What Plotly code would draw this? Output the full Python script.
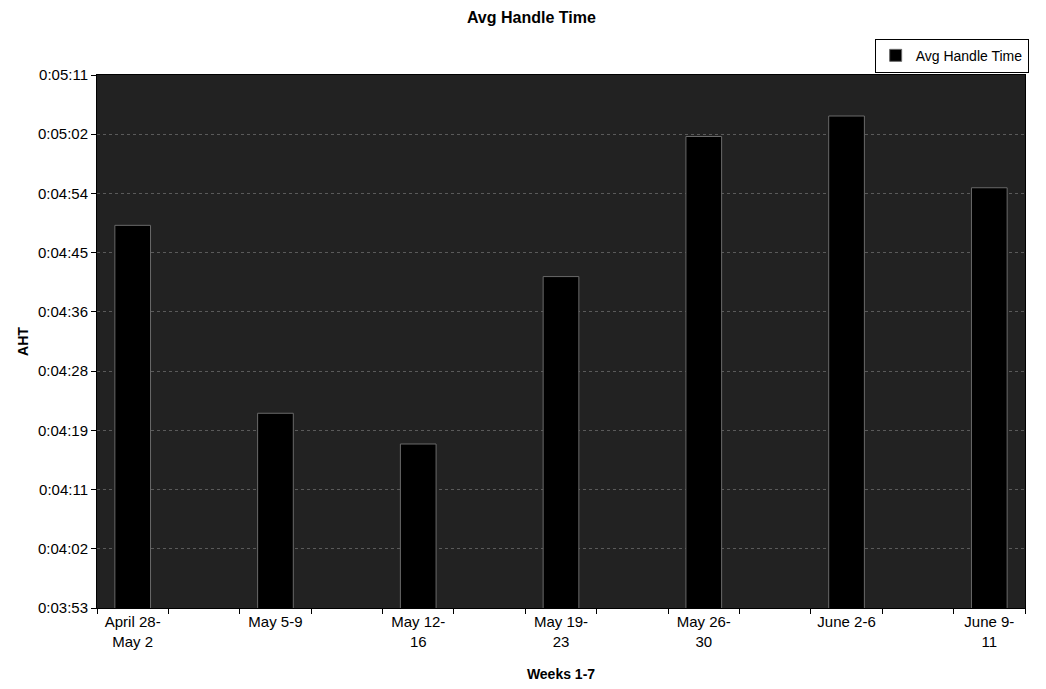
import plotly.graph_objects as go

weeks = ["April 28-<br>May 2", "May 5-9", "May 12-<br>16", "May 19-<br>23",
         "May 26-<br>30", "June 2-6", "June 9-<br>11"]
# average handle time in seconds
aht_seconds = [289, 261.5, 257, 281.5, 302, 305, 294.5]
y_tick_seconds = [233, 241.67, 250.33, 259, 267.67, 276.33, 285, 293.67, 302.33, 311]
y_tick_labels = ["0:03:53", "0:04:02", "0:04:11", "0:04:19", "0:04:28",
                 "0:04:36", "0:04:45", "0:04:54", "0:05:02", "0:05:11"]

x_pos = list(range(len(weeks)))
hover = ["%d:%02d" % (int(s) // 60, int(s) % 60) for s in aht_seconds]

fig = go.Figure()
fig.add_trace(go.Bar(
    x=x_pos, y=aht_seconds, name="Avg Handle Time",
    width=0.25, marker=dict(color="#000000", line=dict(color="#6a6a6a", width=1)),
    text=hover, hoverinfo="text", textposition="none",
))

fig.update_layout(
    width=1046, height=689,
    margin=dict(l=97, r=21, t=75, b=81),
    paper_bgcolor="white",
    plot_bgcolor="#222222",
    font=dict(family="Liberation Sans, Arial, sans-serif", size=14, color="black"),
    title=dict(text="<b>Avg Handle Time</b>", x=0.508, xanchor="center",
               y=0.975, yanchor="middle", font=dict(size=16)),
    showlegend=True,
    legend=dict(x=0.838, y=1.068, xanchor="left", yanchor="top",
                bgcolor="white", bordercolor="black", borderwidth=1,
                font=dict(size=14), itemwidth=30, tracegroupgap=0),
    bargap=0.5,
)
fig.update_xaxes(
    range=[-0.25, 6.25], tickmode="array", tickvals=x_pos, ticktext=weeks,
    ticks="", showgrid=False, zeroline=False, automargin=False,
    showline=True, linecolor="black", linewidth=1, mirror=True,
    minor=dict(tickmode="linear", tick0=-0.25, dtick=0.5, ticks="outside",
               ticklen=5, tickcolor="black", showgrid=False),
    title=dict(text="<b>Weeks 1-7</b>", standoff=20, font=dict(size=14)),
    tickfont=dict(size=15),
)
fig.update_yaxes(
    range=[233, 311], tickmode="array", tickvals=y_tick_seconds, ticktext=y_tick_labels,
    ticks="outside", ticklen=5, tickcolor="black", automargin=False,
    showgrid=True, gridcolor="#5a5a5a", griddash="dot", gridwidth=1,
    zeroline=False, showline=True, linecolor="black", linewidth=1, mirror=True,
    title=dict(text="<b>AHT</b>", standoff=6, font=dict(size=14)),
    tickfont=dict(size=15),
)

fig.write_html("out.html")
